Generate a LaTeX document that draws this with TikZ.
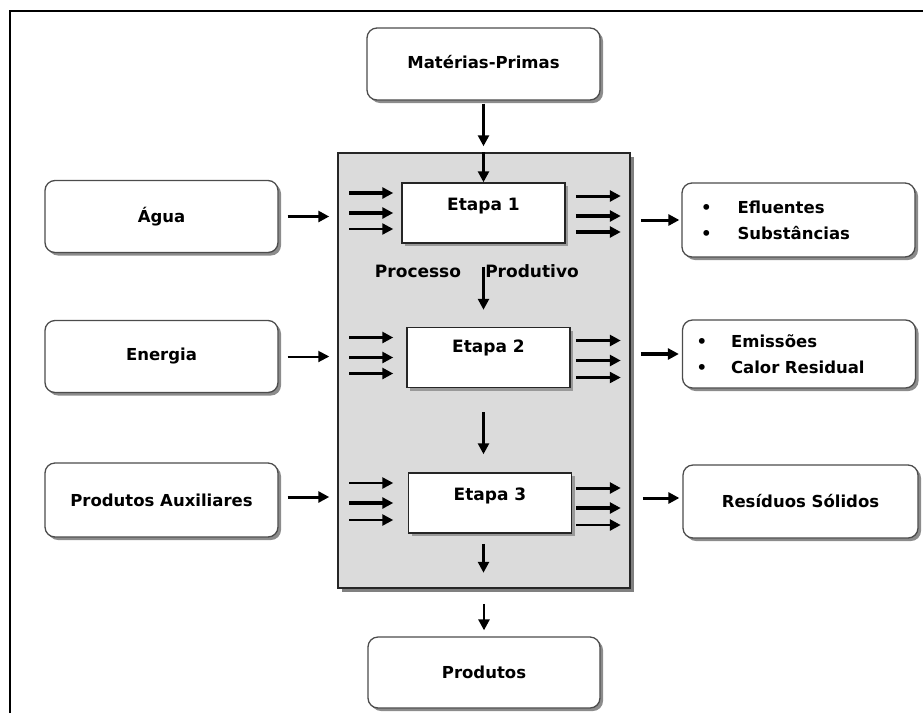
\documentclass[tikz,border=0pt]{standalone}
\usepackage{fontspec}
\setmainfont{DejaVu Sans}
\usetikzlibrary{arrows.meta,shadows,calc}
\tikzset{
  flow/.style={-{Triangle[length=11pt,width=11pt]}, line width=2.6pt},
  rbox/.style={draw=black!70, line width=1.3pt, rounded corners=10pt, fill=white,
    minimum width=233pt, minimum height=72pt,
    drop shadow={shadow xshift=3pt, shadow yshift=-3pt, fill=black!45, opacity=1},
    font=\bfseries\fontsize{16.5}{26}\selectfont},
  etapa/.style={draw=black!85, line width=1.5pt, fill=white, minimum width=163pt, minimum height=60pt,
    drop shadow={shadow xshift=3pt, shadow yshift=-3pt, fill=black!40, opacity=1}},
  etxt/.style={font=\bfseries\fontsize{17}{20}\selectfont},
}
\begin{document}
\begin{tikzpicture}[x=1pt,y=-1pt]
\useasboundingbox (0,0) rectangle (923,713);
\draw[line width=2.2pt] (10,713) -- (10,11) -- (923,11);
% entradas e saidas
\node[rbox] (mp) at (483.5,64) {Matérias-Primas\vphantom{p}\\[6pt]};
\node[rbox] (agua) at (161.5,216.5) {Água};
\node[rbox] (energia) at (161.5,356.5) {Energia};
\node[rbox, minimum height=74pt] (aux) at (161.5,500) {Produtos Auxiliares};
\node[rbox, minimum height=74pt, text width=195pt, align=left] (eflu) at (798.5,220)
  {\textbullet\hspace{26pt}Efluentes\\\textbullet\hspace{26pt}Substâncias};
\node[rbox, minimum height=68pt, text width=205pt, align=left] (emis) at (799,354)
  {\textbullet\hspace{24pt}Emissões\\\textbullet\hspace{24pt}Calor Residual};
\node[rbox, minimum width=235pt, minimum height=73pt] (resid) at (800.5,501.5) {Resíduos Sólidos};
\node[rbox, minimum width=232pt, minimum height=71pt] (prod) at (484,672.5) {Produtos};
% processo produtivo
\node[draw=black!85, line width=1.5pt, fill=black!14, minimum width=292pt, minimum height=435pt,
  drop shadow={shadow xshift=4pt, shadow yshift=-4pt, fill=black!50, opacity=1}] (proc) at (484,370.5) {};
\node[etapa, label={[etxt, anchor=north, yshift=-12pt]north:Etapa 1}] (et1) at (483.5,213) {};
\node[etapa, label={[etxt, anchor=north, yshift=-10pt]north:Etapa 2}] (et2) at (488.5,357.5) {};
\node[etapa, label={[etxt, anchor=north, yshift=-12pt]north:Etapa 3}] (et3) at (490,503) {};
\node[etxt] (procA) at (418,271) {Processo};
\node[etxt] (procB) at (532,271) {Produtivo};
% setas verticais
\draw[flow, shorten <=3pt, shorten >=6pt] (mp.south) -- (proc.north -| mp.south);
\draw[flow] (proc.north -| et1.north) -- (et1.north);
\draw[flow, shorten <=23pt, shorten >=17pt] (et1.south) -- (et1.south |- et2.north);
\draw[flow, shorten <=24pt, shorten >=18pt] (et1.south |- et2.south) -- (et1.south |- et3.north);
\draw[flow, shorten <=10pt, shorten >=16pt] (et1.south |- et3.south) -- (et1.south |- proc.south);
\draw[flow, shorten <=15pt, shorten >=6pt] (proc.south -| prod.north) -- (prod.north);
% setas laterais
\draw[flow, line width=3pt, shorten <=9pt, shorten >=8pt] (agua.east) -- (agua.east -| proc.west);
\draw[flow, line width=2pt, shorten <=9pt, shorten >=8pt] (energia.east) -- (energia.east -| proc.west);
\draw[flow, line width=3pt, shorten <=9pt, shorten >=8pt] (aux.east |- 0,497) -- (proc.west |- 0,497);
\draw[flow, line width=3pt, shorten <=10pt, shorten >=2pt] (proc.east |- eflu.west) -- (eflu.west);
\draw[flow, line width=4pt, shorten <=10pt, shorten >=3pt] (proc.east |- emis.west) -- (emis.west);
\draw[flow, line width=3pt, shorten <=12pt, shorten >=3pt] (proc.east |- 0,498) -- (resid.west |- 0,498);
% setas das etapas
\foreach \e/\dy/\w in {et1/-20/3.8, et1/0/3.8, et1/16/2.4, et2/-20/3.4, et2/0/3.4, et2/16/3.4,
  et3/-20/2.6, et3/0/3.8, et3/17/2.6}
  \draw[flow, line width=\w pt] ($(proc.west |- \e.west)+(12,\dy)$) -- ++(44,0);
\foreach \e/\dy/\w in {et1/-17/3, et1/3/3.8, et1/19/4, et2/-17/3.8, et2/3/3.8, et2/20/2.4,
  et3/-15/3, et3/5/3.8, et3/22/2.8}
  \draw[flow, line width=\w pt] ($(proc.east |- \e.east)+(-55,\dy)$) -- ++(45,0);
\end{tikzpicture}
\end{document}
